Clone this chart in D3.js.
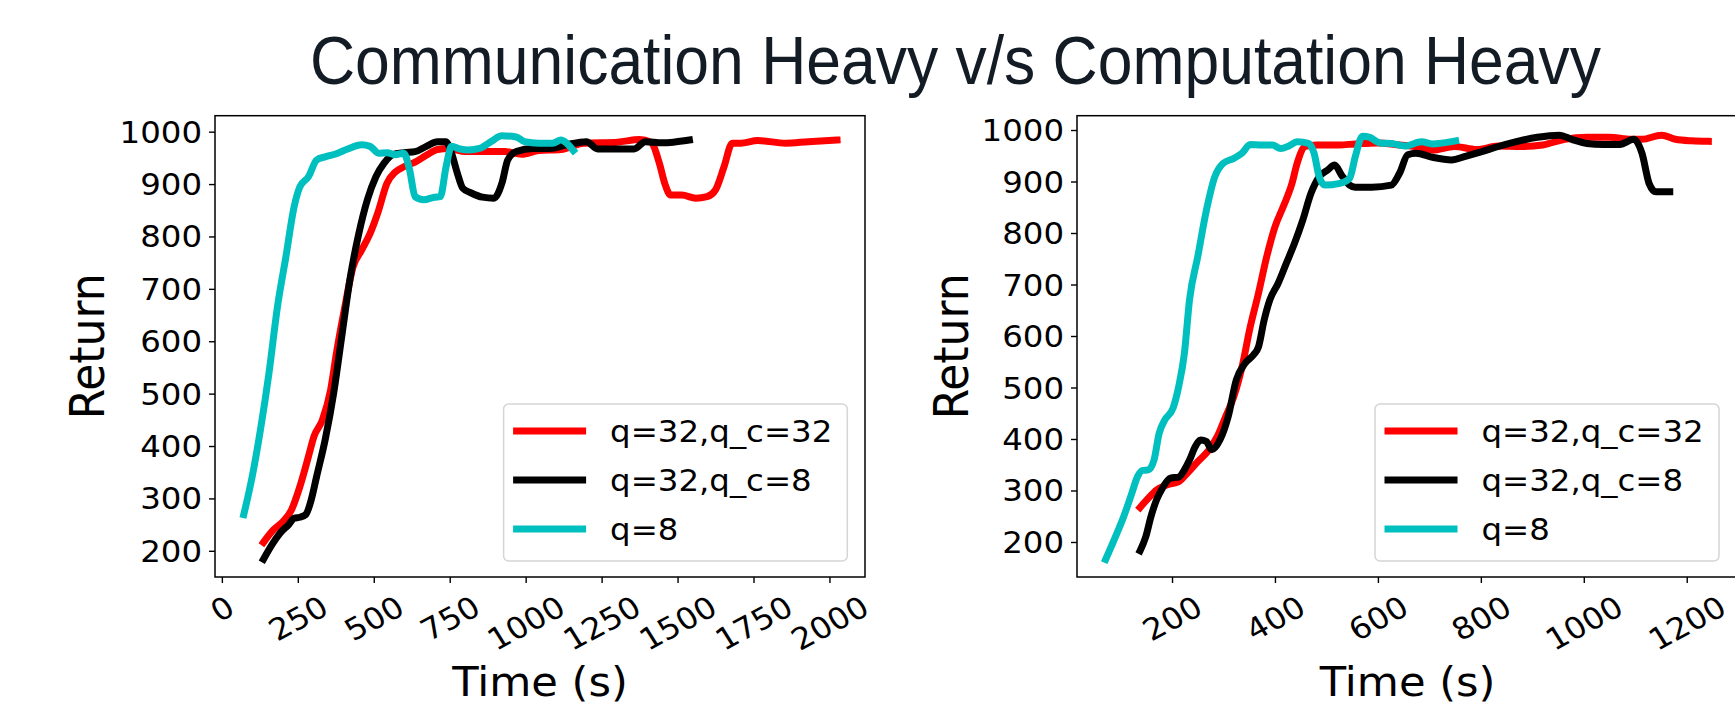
<!DOCTYPE html>
<html><head><meta charset="utf-8">
<script src="https://cdn.jsdelivr.net/npm/d3@7"></script>
<style>
html,body{margin:0;padding:0;background:#fff;overflow:hidden}
svg{display:block}
</style></head><body>
<svg id="chart" width="1735" height="706"></svg>
<script>
// ---------- data ----------
const titleText = "Communication Heavy v/s Computation Heavy";
const seriesNames = ["q=32,q_c=32", "q=32,q_c=8", "q=8"];
const seriesColors = ["#ff0000", "#000000", "#00bfbf"];
const xLabel = "Time (s)";
const yLabel = "Return";
const leftXTicks = [0, 250, 500, 750, 1000, 1250, 1500, 1750, 2000];
const rightXTicks = [200, 400, 600, 800, 1000, 1200];
const yTicks = [200, 300, 400, 500, 600, 700, 800, 900, 1000];

// Communication heavy (left)
const commRedT = [137,165,201,229,257,285,303,331,358,377,405,432,460,488,516,543,571,599,636,673,710,747,802,876,931,987,1043,1116,1191,1302,1375,1412,1440,1458,1477,1514,1560,1597,1625,1653,1680,1708,1764,1856,1930,2025];
const commRedR = [216,237,256,278,323,380,418,450,507,577,666,742,774,806,850,901,923,933,942,955,966,968,962,962,962,957,964,966,978,980,985,980,940,901,879,879,873,876,889,933,978,978,983,978,981,984];
const commBlackT = [137,165,192,220,238,257,276,294,312,340,368,396,423,451,479,507,534,562,599,636,673,710,737,756,775,793,821,858,895,922,941,969,1024,1080,1135,1200,1237,1302,1357,1394,1449,1486,1539];
const commBlackR = [184,212,234,250,262,264,269,297,342,412,501,615,723,806,870,914,940,956,960,962,972,981,981,959,921,892,883,875,873,902,946,962,968,968,975,981,967,967,967,981,979,980,984];
const commCyanT = [72,100,127,155,183,211,238,257,285,312,340,377,414,460,488,516,544,571,599,618,636,664,701,719,738,756,784,812,848,886,922,969,996,1043,1089,1116,1135,1157];
const commCyanR = [269,342,431,539,666,762,857,895,914,946,952,958,967,975,972,959,960,956,959,927,876,870,875,876,933,972,967,965,968,981,992,990,981,978,978,984,978,964];

// Computation heavy (right)
const compRedT = [138,154,170,191,213,229,250,272,288,304,320,336,352,368,384,400,416,433,443,459,481,524,556,599,642,685,706,749,792,834,877,920,963,1006,1049,1092,1113,1151,1178,1210,1242];
const compRedR = [267,285,301,311,317,333,356,379,405,443,482,540,618,683,754,812,851,896,935,968,971,971,973,975,971,966,961,968,962,969,968,971,982,986,986,982,982,990,982,979,978];
const compBlackT = [138,149,159,170,181,197,213,224,234,245,256,267,277,293,309,325,342,358,368,379,390,406,422,438,454,470,486,502,516,529,545,556,588,626,642,658,674,706,743,770,802,834,867,910,952,979,1006,1038,1070,1097,1113,1127,1140,1167];
const compBlackR = [183,210,249,282,304,324,326,340,359,385,398,395,379,398,443,515,547,563,579,631,670,702,741,780,825,877,909,922,932,913,893,889,889,893,916,952,955,947,942,949,958,968,977,986,990,981,974,972,972,982,955,896,880,880];
const compCyanT = [71,90,106,122,133,143,154,165,175,186,202,213,224,234,250,267,283,299,320,336,352,374,395,411,427,443,465,476,486,497,524,545,556,570,583,604,626,652,685,706,727,751];
const compCyanR = [166,210,249,295,327,339,340,359,411,437,460,502,566,670,754,845,909,935,945,955,972,971,971,964,969,977,974,955,909,893,896,906,948,988,986,975,974,969,977,973,975,979];

// ---------- layout ----------
const SX = 1.08;         // horizontal stretch of the original figure
const FS = 30;           // tick / legend font size
const FONT = "DejaVu Sans, sans-serif";
const svg = d3.select("#chart");

svg.append("text")
  .attr("x", 955.5).attr("y", 84)
  .attr("text-anchor", "middle")
  .attr("font-family", "Liberation Sans, Arial, Helvetica, sans-serif")
  .attr("font-size", 68)
  .attr("fill", "#131b25")
  .attr("textLength", 1291)
  .attr("lengthAdjust", "spacingAndGlyphs")
  .text(titleText);

const panels = [
  {
    xDomain: [-22.6, 2117], xRange: [215, 865],
    yDomain: [150, 1030.5], yRange: [577, 115.7],
    xTicks: leftXTicks,
    series: [[commRedT, commRedR], [commBlackT, commBlackR], [commCyanT, commCyanR]],
    legend: {x: 503.6, y: 404, w: 343.7, h: 157},
    yLabelX: 103.9
  },
  {
    xDomain: [15.4, 1300], xRange: [1077, 1738.2],
    yDomain: [132, 1027.8], yRange: [577, 115.7],
    xTicks: rightXTicks,
    series: [[compRedT, compRedR], [compBlackT, compBlackR], [compCyanT, compCyanR]],
    legend: {x: 1375, y: 404, w: 344, h: 157},
    yLabelX: 968
  }
];

panels.forEach(p => {
  const x = d3.scaleLinear().domain(p.xDomain).range(p.xRange);
  const y = d3.scaleLinear().domain(p.yDomain).range(p.yRange);
  const g = svg.append("g");
  const left = p.xRange[0], right = p.xRange[1], top = p.yRange[1], bottom = p.yRange[0];

  // series
  const line = d3.line().x(d => x(d[0])).y(d => y(d[1])).curve(d3.curveMonotoneX);
  p.series.forEach((s, i) => {
    const pts = s[0].map((t, k) => [t, s[1][k]]);
    g.append("path").datum(pts)
      .attr("d", line)
      .attr("fill", "none")
      .attr("stroke", seriesColors[i])
      .attr("stroke-width", 7)
      .attr("stroke-linejoin", "round")
      .attr("stroke-linecap", "square");
  });

  // spines
  g.append("rect")
    .attr("x", left).attr("y", top)
    .attr("width", right - left).attr("height", bottom - top)
    .attr("fill", "none").attr("stroke", "#000").attr("stroke-width", 1.5);

  // y axis
  const ya = g.append("g").attr("transform", `translate(${left},0)`)
    .call(d3.axisLeft(y).tickValues(yTicks).tickFormat(d3.format("d")).tickSize(6).tickPadding(6).tickSizeOuter(0));
  ya.select(".domain").remove();
  ya.selectAll(".tick line").attr("stroke", "#000").attr("stroke-width", 1.4);
  ya.selectAll(".tick text")
    .attr("font-family", FONT).attr("font-size", FS).attr("fill", "#000")
    .attr("dy", "0.35em")
    .attr("transform", `scale(${SX},1)`);

  // x axis
  const xa = g.append("g").attr("transform", `translate(0,${bottom})`)
    .call(d3.axisBottom(x).tickValues(p.xTicks).tickFormat(d3.format("d")).tickSize(6).tickPadding(6).tickSizeOuter(0));
  xa.select(".domain").remove();
  xa.selectAll(".tick line").attr("stroke", "#000").attr("stroke-width", 1.4);
  xa.selectAll(".tick text")
    .attr("font-family", FONT).attr("font-size", FS).attr("fill", "#000")
    .each(function() {
      const w = this.getComputedTextLength();
      const h = 1.164 * FS;
      const bh = w * 0.5 + h * 0.866;
      const cy = 12 + bh / 2;
      d3.select(this)
        .attr("x", 0).attr("y", 0.346 * FS).attr("dy", null)
        .attr("text-anchor", "middle")
        .attr("transform", `translate(0,${cy}) scale(${SX},1) rotate(-30)`);
    });

  // axis labels
  g.append("text")
    .attr("transform", `translate(${(left + right) / 2},696) scale(${SX},1)`)
    .attr("text-anchor", "middle")
    .attr("font-family", FONT).attr("font-size", 40).attr("fill", "#000")
    .text(xLabel);
  g.append("text")
    .attr("transform", `translate(${p.yLabelX},${(top + bottom) / 2}) scale(${SX},1) rotate(-90)`)
    .attr("text-anchor", "middle")
    .attr("font-family", FONT).attr("font-size", 44).attr("fill", "#000")
    .text(yLabel);

  // legend
  const L = p.legend;
  const lg = g.append("g");
  lg.append("rect")
    .attr("x", L.x).attr("y", L.y).attr("width", L.w).attr("height", L.h)
    .attr("rx", 5).attr("ry", 5)
    .attr("fill", "#fff").attr("fill-opacity", 0.8)
    .attr("stroke", "#d5d5d5").attr("stroke-width", 1.5);
  seriesNames.forEach((name, i) => {
    const ly = L.y + 27 + i * 49;
    lg.append("line")
      .attr("x1", L.x + 13).attr("x2", L.x + 79)
      .attr("y1", ly).attr("y2", ly)
      .attr("stroke", seriesColors[i]).attr("stroke-width", 7)
      .attr("stroke-linecap", "square");
    lg.append("text")
      .attr("transform", `translate(${L.x + 106.5},${ly}) scale(${SX},1)`)
      .attr("y", 0.35 * FS)
      .attr("font-family", FONT).attr("font-size", FS).attr("fill", "#000")
      .text(name);
  });
});
</script>
</body></html>
